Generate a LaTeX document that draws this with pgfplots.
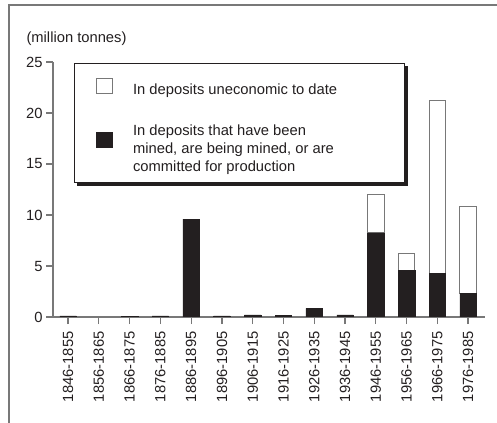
\documentclass[border=0pt]{standalone}
\usepackage{pgfplots}
\pgfplotsset{compat=1.18}
\usepackage{fontspec}
\setmainfont{Liberation Sans}

\definecolor{ink}{RGB}{35,31,32}
\definecolor{axisgray}{RGB}{120,120,120}
\newcommand{\fs}{\fontsize{14.8}{18}\selectfont}

\begin{document}
\begin{tikzpicture}[font=\fs]
  % page = 497 x 423 bp, like the reference in pixels
  \path[use as bounding box] (0bp,0bp) rectangle (497bp,423bp);
  \draw[axisgray, line width=1.2bp] (9bp,0bp) -- (9bp,418bp) -- (497bp,418bp);

  \begin{axis}[
    at={(53bp,106bp)}, anchor=south west,
    scale only axis,
    width=432bp, height=255bp,
    xmin=-0.49, xmax=13.55,
    ymin=0, ymax=25,
    axis lines=left,
    axis line style={-, axisgray, line width=1.2bp},
    ybar stacked,
    bar width=16.5bp,
    xtick={0,...,13},
    xticklabels={1846-1855,1856-1865,1866-1875,1876-1885,1886-1895,1896-1905,1906-1915,
                 1916-1925,1926-1935,1936-1945,1946-1955,1956-1965,1966-1975,1976-1985},
    ytick={0,5,...,25},
    tick align=outside,
    major tick length=7bp,
    tick style={axisgray, line width=1.2bp},
    x tick label style={rotate=90, anchor=east, font=\fs, text=ink},
    xticklabel shift=4bp,
    y tick label style={font=\fs, text=ink},
    /pgf/number format/assume math mode=true,
    reverse legend,
    legend cell align=left,
    every axis plot post/.append style={
      legend image code/.code={
        \draw[##1, line width=1bp] (0bp,-2bp) rectangle (16bp,13bp);
        \path[draw=none, fill=none] (0bp,0bp) -- (37bp,0bp);
      },
    },
    legend style={
      name=lgd,
      at={(0.0486,0.996)}, anchor=north west,
      draw=ink, line width=1.2bp, fill=white,
      inner xsep=21bp, inner ysep=14bp,
      row sep=25bp,
      nodes={inner sep=0pt, text depth={}},
      font=\fs, text=ink,
    },
  ]
    % mined / being mined / committed
    \addplot[fill=ink, draw=ink, line width=0.5bp] coordinates {
      (0,0.1) (1,0) (2,0.05) (3,0.1) (4,9.6) (5,0.1) (6,0.2)
      (7,0.15) (8,0.85) (9,0.2) (10,8.25) (11,4.55) (12,4.3) (13,2.35)
    };
    \addlegendentry{\raisebox{0pt}[\height][\dimexpr\depth-8bp]{\begin{tabular}{@{}l@{}}In deposits that have been\\mined, are being mined, or are\\committed for production\end{tabular}}}

    % uneconomic to date
    \addplot[fill=white, draw=axisgray, line width=1bp] coordinates {
      (0,0) (1,0) (2,0) (3,0) (4,0) (5,0) (6,0)
      (7,0) (8,0) (9,0) (10,3.75) (11,1.65) (12,16.9) (13,8.45)
    };
    \addlegendentry{\makebox[250bp][l]{In deposits uneconomic to date}}
  \end{axis}

  % shadow strips along the bottom and right of the legend box
  \fill[ink] ([xshift=3bp]lgd.south west) rectangle ([xshift=3bp,yshift=-3bp]lgd.south east);
  \fill[ink] ([yshift=-3bp]lgd.north east) rectangle ([xshift=3bp,yshift=-3bp]lgd.south east);

  \node[anchor=base west, text=ink] at (23bp,380bp) {(million tonnes)};
\end{tikzpicture}
\end{document}
